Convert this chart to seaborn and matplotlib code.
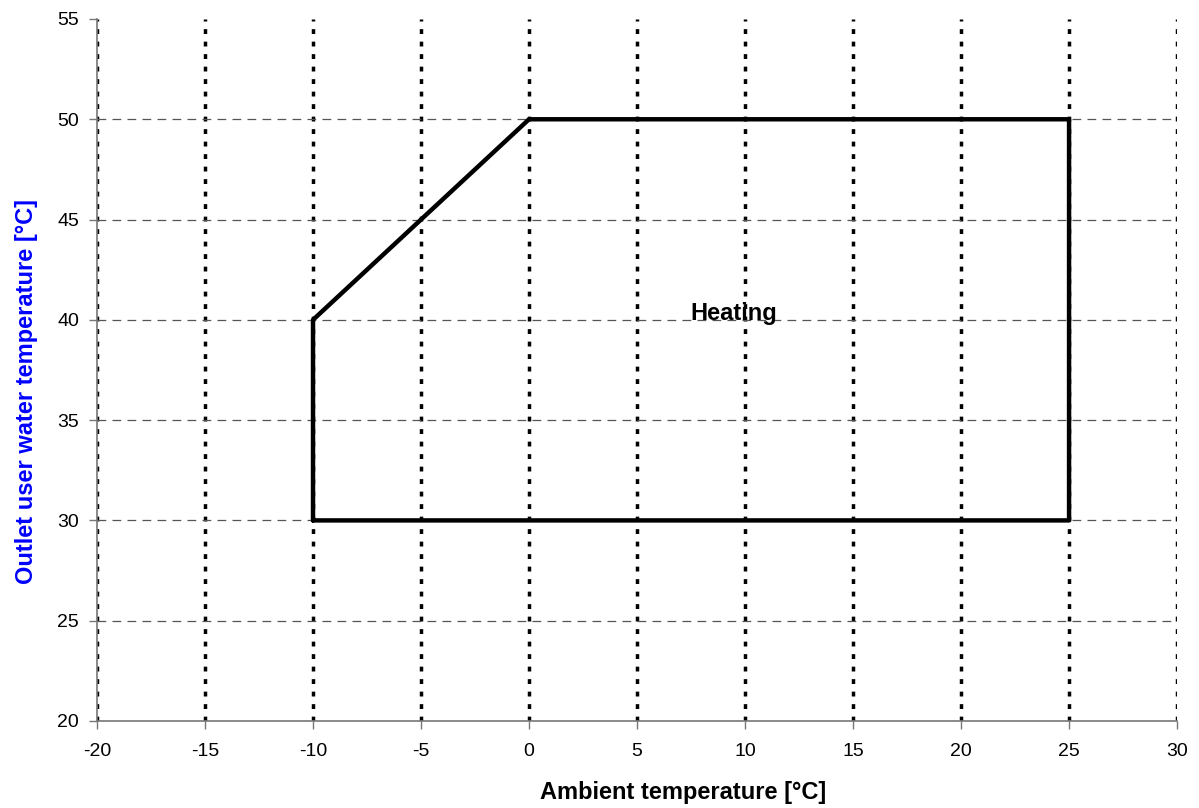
import matplotlib
matplotlib.use('Agg')
import matplotlib.pyplot as plt
import seaborn as sns
import pandas as pd

# 运行区域边界（顺时针）
ambient_temp = [-10, -10, 0, 25, 25, -10]
outlet_temp = [30, 40, 50, 50, 30, 30]
x_ticks = [-20, -15, -10, -5, 0, 5, 10, 15, 20, 25, 30]
y_ticks = [20, 25, 30, 35, 40, 45, 50, 55]
label_text = 'Heating'
label_pos = (9.5, 40.3)

df = pd.DataFrame({'amb': ambient_temp, 'out': outlet_temp})

sns.set_style('white')
plt.rcParams['font.family'] = ['Liberation Sans', 'DejaVu Sans']
plt.rcParams['axes.unicode_minus'] = False
plt.rcParams['text.color'] = 'black'
plt.rcParams['xtick.labelcolor'] = 'black'
plt.rcParams['ytick.labelcolor'] = 'black'

fig = plt.figure(figsize=(11.99, 8.08), dpi=100)
ax = fig.add_axes([0.0809, 0.1077, 0.9008, 0.8688])

sns.lineplot(data=df, x='amb', y='out', sort=False, estimator=None,
             color='black', lw=3.2, ax=ax)

ax.set_xlim(-20, 30)
ax.set_ylim(20, 55)
ax.set_xticks(x_ticks)
ax.set_yticks(y_ticks)

# 网格
for xv in x_ticks:
    ax.axvline(xv, color='black', lw=2.5, linestyle=(0, (1.4, 2.2)), zorder=0)
for yv in y_ticks[1:-1]:
    ax.axhline(yv, color='#555555', lw=0.9, linestyle=(0, (7, 5)), zorder=0)

for s in ['top', 'right']:
    ax.spines[s].set_visible(False)
for s in ['left', 'bottom']:
    ax.spines[s].set_color('#777777')
    ax.spines[s].set_linewidth(1.2)
ax.tick_params(axis='both', direction='out', length=6, width=1, color='#777777',
               labelsize=14, left=True, bottom=True)
ax.tick_params(axis='x', pad=10)
ax.tick_params(axis='y', pad=7)

ax.text(label_pos[0], label_pos[1], label_text, fontsize=17, fontweight='bold',
        ha='center', va='center', color='black')

ax.set_xlabel('Ambient temperature [°C]', fontsize=17, fontweight='bold',
              color='black', labelpad=15, x=0.5426)
ax.set_ylabel('Outlet user water temperature [°C]', fontsize=17, fontweight='bold',
              color='#0000FF', labelpad=14, y=0.470)

fig.savefig('out.png', dpi=100)
